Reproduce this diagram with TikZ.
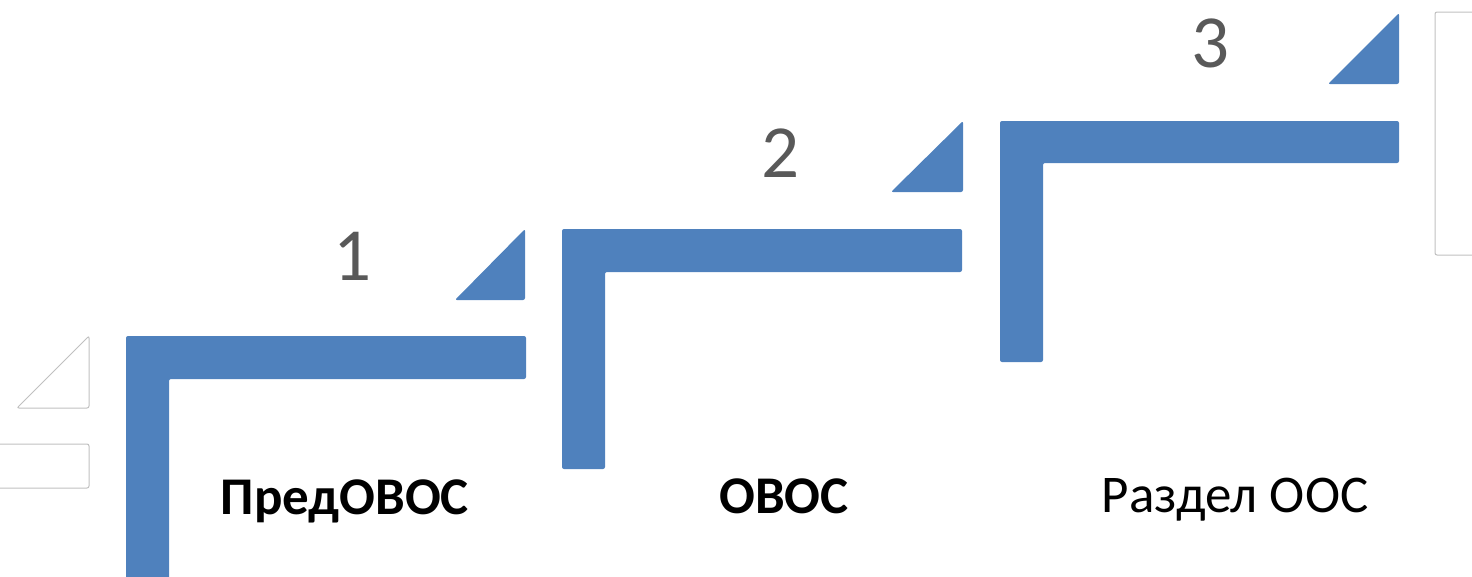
\documentclass[tikz,border=0pt]{standalone}
\usepackage{fontspec}
\setmainfont{Carlito}
\definecolor{stepblue}{HTML}{4F81BD}
\definecolor{numgrey}{HTML}{595959}
\definecolor{ghost}{HTML}{C0C0C0}
\tikzset{
  stair/.style={fill=stepblue,rounded corners=2pt},
  ghoststair/.style={draw=ghost,line width=1pt,rounded corners=2pt},
  stepnum/.style={text=numgrey,font=\fontsize{75}{75}\selectfont,inner sep=0pt},
  steplabel/.style={font=\fontsize{53}{53}\selectfont,anchor=base,inner sep=0pt}
}
\begin{document}
\begin{tikzpicture}[x=1pt,y=-1pt]
    \useasboundingbox (0,0) rectangle (1472,576);
    \clip (0,0) rectangle (1472,576);
    %% faint steps at the edges
    \draw[ghoststair] (17,408) -- (89,336) -- (89,408) -- cycle;
    \draw[ghoststair] (-5,444) rectangle (89,488);
    \draw[ghoststair] (1435,12) rectangle (1480,255);
    %% step 1
    \fill[stair] (126,590) -- (126,336) -- (526,336) -- (526,379) -- (169,379) -- (169,590) -- cycle;
    \fill[stair] (455,300) -- (525,229) -- (525,300) -- cycle;
    \node[stepnum] (num1) at (353,256) {1};
    \node[steplabel,font=\fontsize{53}{53}\selectfont\bfseries] (pre) at (345,514) {ПредОВОС};
    %% step 2
    \fill[stair] (562,469) -- (562,229) -- (962,229) -- (962,272) -- (605,272) -- (605,469) -- cycle;
    \fill[stair] (891,192) -- (963,121) -- (963,192) -- cycle;
    \node[stepnum] (num2) at (780,153) {2};
    \node[steplabel,font=\fontsize{53}{53}\selectfont\bfseries] (ovos) at (784,513) {ОВОС};
    %% step 3
    \fill[stair] (1000,362) -- (1000,121) -- (1399,121) -- (1399,163) -- (1043,163) -- (1043,362) -- cycle;
    \fill[stair] (1328,84) -- (1399,13) -- (1399,84) -- cycle;
    \node[stepnum] (num3) at (1210,43) {3};
    \node[steplabel] (oos) at (1235,512) {Раздел ООС};
\end{tikzpicture}
\end{document}
